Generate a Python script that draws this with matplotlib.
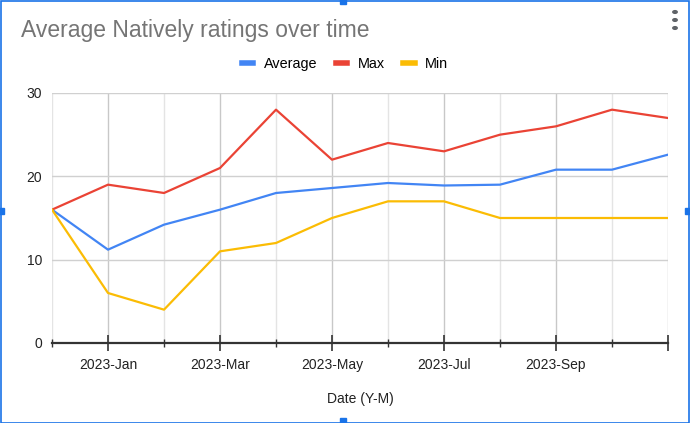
import numpy as np
import matplotlib.pyplot as plt
from matplotlib.patches import Rectangle, Circle
from matplotlib.lines import Line2D

plt.rcParams['font.family'] = ['Liberation Sans', 'DejaVu Sans']

# --- data ---
months = ['2022-Dec', '2023-Jan', '2023-Feb', '2023-Mar', '2023-Apr', '2023-May',
          '2023-Jun', '2023-Jul', '2023-Aug', '2023-Sep', '2023-Oct', '2023-Nov']
avg_vals = [16, 11.2, 14.2, 16.0, 18.0, 18.6, 19.2, 18.9, 19.0, 20.8, 20.8, 22.6]
max_vals = [16, 19, 18, 21, 28, 22, 24, 23, 25, 26, 28, 27]
min_vals = [16, 6, 4, 11, 12, 15, 17, 17, 15, 15, 15, 15]
labeled_months = ['2023-Jan', '2023-Mar', '2023-May', '2023-Jul', '2023-Sep']
y_ticks = [0, 10, 20, 30]

BLUE = '#4285F4'
RED = '#EA4335'
YELLOW = '#FBBC04'

fig = plt.figure(figsize=(6.9, 4.23), dpi=100)
ax = fig.add_axes([52 / 690, 1 - 343 / 423, 616 / 690, 250 / 423])

x = np.arange(len(months))
ax.plot(x, avg_vals, color=BLUE, lw=1.6, label='Average', zorder=3)
ax.plot(x, max_vals, color=RED, lw=1.6, label='Max', zorder=3)
ax.plot(x, min_vals, color=YELLOW, lw=1.6, label='Min', zorder=3)

ax.set_xlim(0, len(months) - 1)
ax.set_ylim(0, 30)

# vertical grid: darker on labelled months and the last point
major_idx = [months.index(m) for m in labeled_months] + [len(months) - 1]
for i in x:
    c = '#c8c8c8' if i in major_idx else '#e4e4e4'
    ax.axvline(i, color=c, lw=1, zorder=1)
for yv in y_ticks[1:]:
    ax.axhline(yv, color='#d0d0d0', lw=1, zorder=1)

ax.set_yticks(y_ticks)
ax.set_yticklabels([str(v) for v in y_ticks], fontsize=10, color='#222222')
ax.tick_params(axis='y', length=0, pad=7)

ax.set_xticks(major_idx)
ax.set_xticklabels(labeled_months + [''], fontsize=10, color='#222222')
ax.set_xticks([i for i in x if i not in major_idx], minor=True)
ax.tick_params(axis='x', which='major', direction='inout', length=12, width=1.2,
               color='#333333', pad=5)
ax.tick_params(axis='x', which='minor', direction='inout', length=6, width=1,
               color='#333333')

for s in ['top', 'right', 'left']:
    ax.spines[s].set_visible(False)
ax.spines['bottom'].set_color('#333333')
ax.spines['bottom'].set_linewidth(1.6)
ax.spines['bottom'].set_zorder(4)

ax.set_xlabel('Date (Y-M)', fontsize=10, color='#222222', labelpad=14)

# title
fig.text(21 / 690, 1 - 31 / 423, 'Average Natively ratings over time', fontsize=16.5,
         color='#757575', va='center', ha='left')

# legend
handles = [Line2D([0], [0], color=c, lw=4) for c in (BLUE, RED, YELLOW)]
fig.legend(handles, ['Average', 'Max', 'Min'], loc='center', ncol=3,
           bbox_to_anchor=(345 / 690, 1 - 64 / 423), frameon=False, fontsize=10.4,
           handlelength=0.8, handletextpad=0.7, columnspacing=1.3)

# sheets selection frame + menu dots
fig.patches.append(Rectangle((0.5 / 690, 0.5 / 423), 688 / 690, 421 / 423,
                             transform=fig.transFigure, fill=False,
                             edgecolor='#1a73e8', lw=1.2))
for hx, hy in [(343, 1), (343, 421), (1, 211), (688, 211)]:
    fig.patches.append(Rectangle(((hx - 3) / 690, 1 - (hy + 3) / 423), 6 / 690, 6 / 423,
                                 transform=fig.transFigure, color='#1a73e8'))
for dy in (12, 20, 28):
    fig.patches.append(Circle((675 / 690, 1 - dy / 423), 2.2 / 690,
                              transform=fig.transFigure, color='#5f6368'))

fig.savefig('out.png', dpi=100)
